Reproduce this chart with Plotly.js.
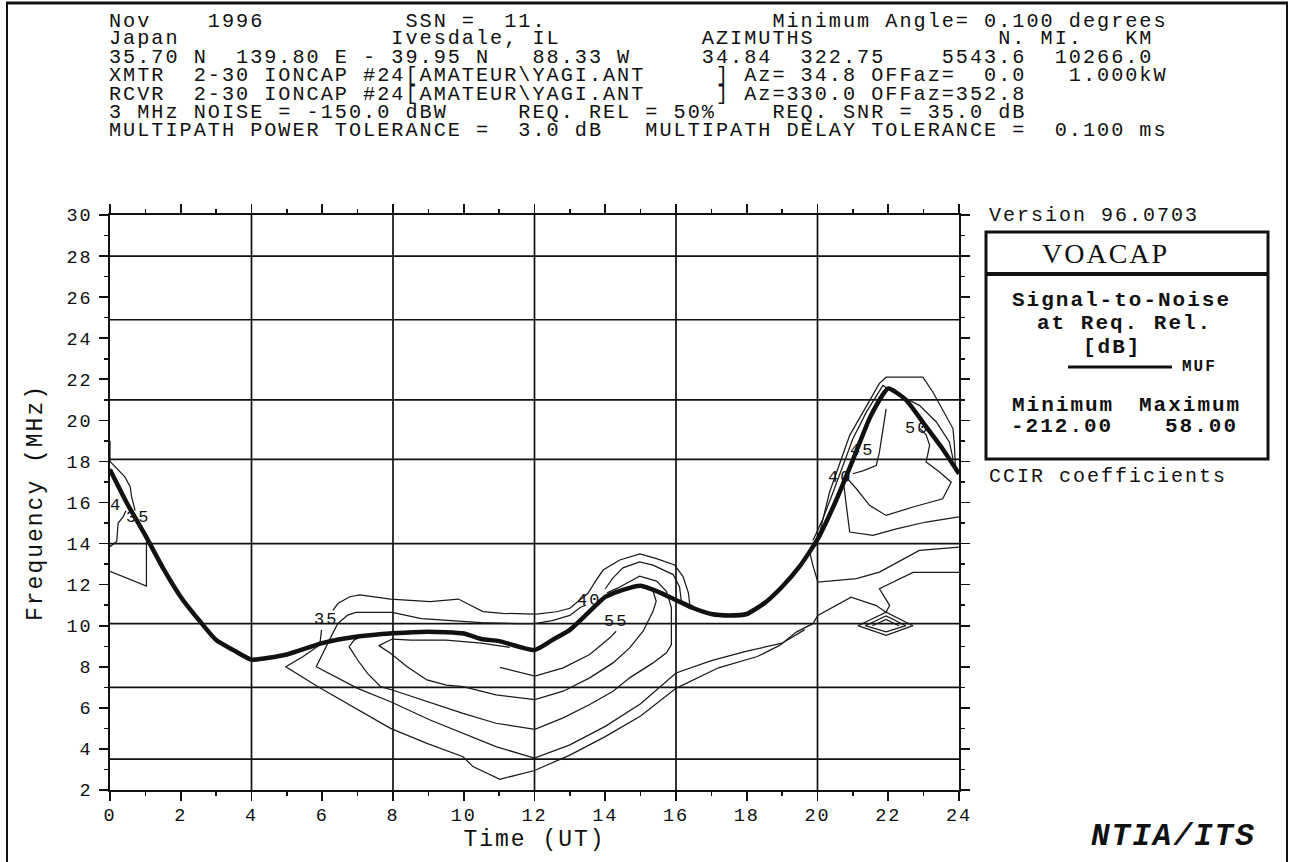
<!DOCTYPE html>
<html><head><meta charset="utf-8">
<script src="https://cdn.plot.ly/plotly-3.0.1.min.js"></script>
<style>
html,body{margin:0;padding:0;background:#fff;}
#chart{width:1292px;height:862px;}
svg text{letter-spacing:2px;}
</style></head><body><div id="chart"></div>
<script>
// ---------------- data ----------------
const mufHours = [0,0.5,1,1.5,2,2.5,3,3.5,4,5,6,7,8,9,10,10.5,11,12,12.5,13,13.5,14,14.5,15,15.5,16,16.5,17,17.5,18,18.5,19,19.5,20,20.5,21,21.5,22,22.5,23,23.5,24];
const mufMHz   = [17.6,15.9,14.4,12.8,11.4,10.3,9.3,8.8,8.35,8.6,9.15,9.47,9.63,9.71,9.62,9.35,9.25,8.82,9.3,9.8,10.6,11.4,11.75,11.95,11.65,11.25,10.85,10.57,10.5,10.57,11.1,11.9,12.9,14.2,16.0,18.07,20.2,21.55,21.0,19.86,18.7,17.4];

const bandLines = [3.5,7.0,10.1,14.0,18.1,21.0,24.9,28.0];
const hourLines = [4,8,12,16,20];

// contour polylines (hour, MHz)
const leftAX = [0,0,0.42,0.57,0.61,0.71];
const leftAY = [19.0,18.0,17.25,16.77,16.28,15.6];
const leftBX = [0,0.14,0.33,0.47];
const leftBY = [17.65,17.1,16.44,16.04];
const leftCX = [0,0.19,0.23,0.37,0.45];
const leftCY = [13.85,14.1,15.0,15.3,15.6];
const leftDX = [0,1.03,1.03];
const leftDY = [12.65,11.93,14.1];

const c35aX = [6.3,6.45,6.78,7.06,7.93,9.05,9.85,10.17,10.54,11.1,12.05,12.62,13.0,13.28,13.51,13.75,13.94,14.41,14.98,15.45,15.96,16.2,16.35,16.4];
const c35aY = [10.75,11.09,11.41,11.5,11.3,11.17,11.3,11.0,10.69,10.6,10.57,10.68,10.85,11.25,11.58,12.23,12.71,13.2,13.5,13.27,12.96,12.39,11.6,10.9];
const c35bX = [5.98,5.93,5.46,4.97,5.88,7.0,7.93,8.96,9.98,10.26,11.02,12.0,13.0,14.0,15.0,16.0,17.2,18.3,18.93,19.4,19.87,20.01,20.95,21.66,21.94];
const c35bY = [9.8,9.06,8.5,8.0,7.03,5.9,5.0,4.27,3.62,3.14,2.52,2.95,3.7,4.6,5.6,6.95,7.95,8.5,9.04,9.69,10.1,10.5,11.39,10.98,10.66];

const c40X = [13.45,13.3,13.0,12.5,12.0,11.5,10.5,9.5,8.8,7.98,6.95,6.72,6.44,6.25,6.15,5.97,5.83,7.0,7.93,9.05,9.98,10.91,12.0,13.0,14.0,15.0,16.0,17.0,18.0,19.0,19.64];
const c40Y = [11.0,10.9,10.5,10.25,10.1,10.1,10.15,10.25,10.35,10.65,10.65,10.52,10.11,9.47,9.13,8.49,8.0,6.95,6.3,5.41,4.76,4.11,3.55,4.2,5.1,6.2,7.7,8.3,8.76,9.15,9.81];
const c40bumpX = [14.0,14.22,14.5,14.97,15.35,15.92,16.1,16.15];
const c40bumpY = [11.8,12.33,12.82,13.11,12.95,12.49,11.9,11.2];

const c45X = [7.18,6.9,6.76,7.0,7.28,7.65,7.98,8.96,9.98,10.91,12.01,12.81,13.56,14.22,14.69,15.35,15.73,15.87,15.87,15.73,15.45,14.97,14.36,14.05];
const c45Y = [9.55,9.3,8.98,8.33,7.68,7.03,6.87,6.3,5.73,5.25,4.95,5.51,6.16,6.81,7.46,8.19,8.68,9.08,10.87,11.68,12.17,12.41,11.84,11.6];

const c50X = [11.3,10.5,9.5,8.5,7.98,7.6,7.93,8.4,8.96,9.51,9.98,10.91,12.01,12.81,13.56,14.22,14.69,15.07,15.35,15.44,15.35];
const c50Y = [8.95,9.15,9.3,9.3,9.35,9.03,8.66,8.0,7.36,7.11,7.03,6.63,6.4,6.81,7.46,8.19,8.92,9.73,10.7,11.19,11.68];

const c55X = [11.02,12.01,12.81,13.56,14.13,14.31];
const c55Y = [7.97,7.55,7.95,8.6,9.41,9.73];

const r1X = [19.97,20.34,20.91,21.75,21.94,22.98,23.26,23.83,23.87,23.9];
const r1Y = [13.9,16.5,19.27,21.8,22.1,22.1,21.38,19.6,18.8,17.64];
const r2X = [19.87,20.15,20.44,20.72,21.0,21.38,21.75,21.85,22.13,22.88,23.36,23.73,23.83];
const r2Y = [14.15,15.2,16.5,17.8,19.1,20.4,21.38,21.7,21.38,20.73,19.92,18.94,18.13];
const r3X = [21.94,21.75,21.66,21.3,21.0];
const r3Y = [20.56,18.45,17.8,17.55,17.4];
const r4X = [20.81,21.1,21.47,21.94,22.7,23.54,23.78,23.45,23.07,23.17,23.07,22.9];
const r4Y = [17.24,16.67,15.86,15.37,15.78,16.18,16.99,17.48,17.97,18.78,19.3,19.6];
const r5X = [20.72,20.81,20.91,21.57,22.23,23.07,23.92,24.0];
const r5Y = [17.16,16.02,14.56,14.4,14.72,15.05,15.29,15.3];
const r6X = [19.78,19.87,20.01,21.1,21.75,22.88,24.0];
const r6Y = [13.58,12.94,12.12,12.29,12.61,13.67,13.83];
const r7X = [24.0,22.7,21.75,22.04,21.94];
const r7Y = [12.6,12.6,11.8,10.99,10.66];
const d1X = [21.14,21.94,22.7,21.94,21.14];
const d1Y = [10.0,10.66,10.0,9.53,10.0];
const d2X = [21.35,21.94,22.5];
const d2Y = [10.0,10.48,10.0];
const d3X = [21.55,21.94,22.3];
const d3Y = [10.0,10.3,10.0];
const d4X = [21.35,21.94,22.5];
const d4Y = [10.0,9.7,10.0];

const labelText = ['4','35','35','40','55','40','45','50'];
const labelX    = [0.17,0.78,6.1,13.55,14.3,20.63,21.25,22.8];
const labelY    = [15.85,15.25,10.3,11.25,10.2,17.2,18.55,19.6];

const xTicks = [0,2,4,6,8,10,12,14,16,18,20,22,24];
const yTicks = [2,4,6,8,10,12,14,16,18,20,22,24,26,28,30];

// header text, as [column, text] pieces per row
const headerRows = [
  [[0,'Nov'],[7,'1996'],[21,'SSN =  11.'],[47,'Minimum Angle= 0.100 degrees']],
  [[0,'Japan'],[20,'Ivesdale, IL'],[42,'AZIMUTHS'],[63,'N. MI.'],[72,'KM']],
  [[0,'35.70 N  139.80 E - 39.95 N   88.33 W'],[42,'34.84'],[49,'322.75'],[59,'5543.6'],[67,'10266.0']],
  [[0,'XMTR  2-30 IONCAP #24[AMATEUR\\YAGI.ANT'],[43,'] Az= 34.8 OFFaz=  0.0'],[68,'1.000kW']],
  [[0,'RCVR  2-30 IONCAP #24[AMATEUR\\YAGI.ANT'],[43,'] Az=330.0 OFFaz=352.8']],
  [[0,'3 MHz NOISE = -150.0 dBW'],[29,'REQ. REL = 50%'],[47,'REQ. SNR = 35.0 dB']],
  [[0,'MULTIPATH POWER TOLERANCE =  3.0 dB   MULTIPATH DELAY TOLERANCE =  0.100 ms']]
];

// ---------------- layout helpers ----------------
const L=110, T=215, W=849, H=575;
const px = x => (x-L)/W;
const py = y => (T+H-y)/H;
const FONT = 'Liberation Mono, DejaVu Sans Mono, monospace';
const INK = '#111111';

const contourList = [
  [leftAX,leftAY],[leftBX,leftBY],[leftCX,leftCY],[leftDX,leftDY],
  [c35aX,c35aY],[c35bX,c35bY],[c40X,c40Y],[c40bumpX,c40bumpY],[c45X,c45Y],[c50X,c50Y],[c55X,c55Y],
  [r1X,r1Y],[r2X,r2Y],[r3X,r3Y],[r4X,r4Y],[r5X,r5Y],[r6X,r6Y],[r7X,r7Y],
  [d1X,d1Y],[d2X,d2Y],[d3X,d3Y],[d4X,d4Y]
];

const traces = contourList.map(([x,y]) => ({
  type:'scatter', mode:'lines', x:x, y:y,
  line:{color:'#1a1a1a', width:1.25}, hoverinfo:'skip', showlegend:false
}));
traces.push({type:'scatter', mode:'lines', x:mufHours, y:mufMHz,
  line:{color:INK, width:4.5, shape:'spline', smoothing:0.5}, hoverinfo:'skip', showlegend:false});

const shapes = [];
hourLines.forEach(h => shapes.push({type:'line', xref:'x', yref:'y', x0:h, x1:h, y0:2, y1:30, layer:'below', line:{color:INK, width:1.7}}));
bandLines.forEach(f => shapes.push({type:'line', xref:'x', yref:'y', x0:0, x1:24, y0:f, y1:f, layer:'below', line:{color:INK, width:1.7}}));
// page frame
shapes.push({type:'line', xref:'paper', yref:'paper', x0:px(7), x1:px(7), y0:py(2), y1:py(880), line:{color:INK, width:2}});
shapes.push({type:'line', xref:'paper', yref:'paper', x0:px(1287), x1:px(1287), y0:py(2), y1:py(880), line:{color:INK, width:2}});
shapes.push({type:'line', xref:'paper', yref:'paper', x0:px(6), x1:px(1288), y0:py(3), y1:py(3), line:{color:INK, width:3}});
// legend box
shapes.push({type:'rect', xref:'paper', yref:'paper', x0:px(986), x1:px(1268), y0:py(459), y1:py(232), line:{color:INK, width:3}});
shapes.push({type:'line', xref:'paper', yref:'paper', x0:px(986), x1:px(1268), y0:py(274), y1:py(274), line:{color:INK, width:4}});
shapes.push({type:'line', xref:'paper', yref:'paper', x0:px(1068), x1:px(1172), y0:py(367), y1:py(367), line:{color:INK, width:3}});

function txt(text, x, y, opt) {
  opt = opt || {};
  return {
    text:text, xref:'paper', yref:'paper', x:px(x), y:py(y),
    xanchor:opt.anchor || 'left', yanchor:'middle', showarrow:false,
    font:{family:opt.family || FONT, size:opt.size || 20, color:INK, weight:opt.weight || 'normal', style:opt.style || 'normal'}
  };
}
function buildRow(pieces) {
  let s = '';
  pieces.forEach(([col, t]) => { while (s.length < col) s += ' '; s += t; });
  return s.replace(/ /g, '\u00a0');
}

const rowY = [21,39,57,75,94,112,130];
const annotations = headerRows.map((r,i) => txt(buildRow(r), 107, rowY[i], {size:20.2}));

annotations.push(txt('Version 96.0703', 987, 216));
annotations.push(txt('VOACAP', 1105, 253, {anchor:'center', size:28, family:'Liberation Serif, DejaVu Serif, serif'}));
annotations.push(txt('Signal-to-Noise', 1121, 300, {anchor:'center', size:21, weight:'bold'}));
annotations.push(txt('at Req. Rel.', 1124, 323, {anchor:'center', size:21, weight:'bold'}));
annotations.push(txt('[dB]', 1112, 347, {anchor:'center', size:21, weight:'bold'}));
annotations.push(txt('MUF', 1180, 367, {size:16, weight:'bold'}));
annotations.push(txt('Minimum', 1063, 405, {anchor:'center', size:21, weight:'bold'}));
annotations.push(txt('Maximum', 1190, 405, {anchor:'center', size:21, weight:'bold'}));
annotations.push(txt('-212.00', 1062, 426, {anchor:'center', size:21, weight:'bold'}));
annotations.push(txt('58.00', 1240, 426, {anchor:'right', size:21, weight:'bold'}));
annotations.push(txt('CCIR coefficients', 987, 476));
annotations.push(txt('NTIA/ITS', 1173, 836, {anchor:'center', size:31, weight:'bold', style:'italic'}));

labelText.forEach((t,i) => annotations.push({
  text:t, xref:'x', yref:'y', x:labelX[i], y:labelY[i], showarrow:false,
  xanchor:'center', yanchor:'middle', font:{family:FONT, size:17, color:INK}
}));

function axisBase() {
  return {
    showline:true, linecolor:INK, linewidth:1.7, mirror:'ticks',
    ticks:'outside', ticklen:9, tickwidth:1.6, tickcolor:INK,
    minor:{dtick:1, ticks:'outside', ticklen:4, tickwidth:1.5, tickcolor:INK},
    showgrid:false, zeroline:false, fixedrange:true,
    tickfont:{family:FONT, size:18.5, color:INK}
  };
}

const layout = {
  width:1292, height:862,
  margin:{l:L, r:1292-L-W, t:T, b:862-T-H, pad:0},
  paper_bgcolor:'#ffffff', plot_bgcolor:'#ffffff',
  showlegend:false,
  xaxis:Object.assign(axisBase(), {
    range:[0,24], tickmode:'array', tickvals:xTicks, ticktext:xTicks.map(String),
    ticklabelstandoff:-2,
    title:{text:'Time (UT)', font:{family:FONT, size:23, color:INK}, standoff:0}
  }),
  yaxis:Object.assign(axisBase(), {
    range:[2,30], tickmode:'array', tickvals:yTicks, ticktext:yTicks.map(String),
    ticklabelstandoff:3,
    title:{text:'Frequency (MHz)', font:{family:FONT, size:23, color:INK}, standoff:17}
  }),
  shapes:shapes, annotations:annotations
};

Plotly.newPlot('chart', traces, layout, {staticPlot:true, displayModeBar:false});
</script></body></html>
